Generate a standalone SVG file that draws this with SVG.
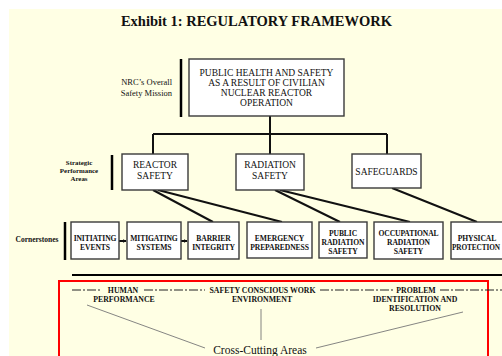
<svg xmlns="http://www.w3.org/2000/svg" width="502" height="356" viewBox="0 0 502 356">
<defs>
<style>
.bg{fill:#FFFFE4}
.box{fill:#fff;stroke:#3a3a3a;stroke-width:1.4}
.bar{stroke:#000;stroke-width:2.5}
.con{stroke:#111;stroke-width:2;fill:none}
.thin{stroke:#777;stroke-width:0.9;fill:none}
.t{font-family:"Liberation Serif","Times New Roman",serif;fill:#111;text-anchor:middle}
.l1{font-size:9.5px}
.l3{font-size:7.6px;font-weight:bold;letter-spacing:-0.1px}
.cc{font-size:7.8px;font-weight:bold}
.side{font-size:8.5px;text-anchor:end}
.sm{font-size:6.9px;font-weight:bold}
</style>
<marker id="ah" viewBox="0 0 6 6" refX="5" refY="3" markerWidth="4" markerHeight="4" orient="auto" markerUnits="userSpaceOnUse">
<path d="M0,0 L6,3 L0,6 z" fill="#111"/>
</marker>
</defs>
<rect x="0" y="0" width="502" height="356" fill="#fff"/>
<rect class="bg" x="9" y="9" width="493" height="347"/>

<text class="t" x="256.5" y="26" style="font-size:14.5px;font-weight:bold">Exhibit 1: REGULATORY FRAMEWORK</text>

<g id="labels">
<line class="bar" x1="181" y1="59" x2="181" y2="117"/>
<text class="t side" x="172" y="85">NRC’s Overall</text>
<text class="t side" x="172" y="96">Safety Mission</text>
<line class="bar" x1="112" y1="155" x2="112" y2="190"/>
<text class="t sm" x="79" y="165">Strategic</text>
<text class="t sm" x="79" y="173">Performance</text>
<text class="t sm" x="79" y="181">Areas</text>
<line class="bar" x1="65" y1="222" x2="65" y2="260"/>
<text class="t" x="37" y="242" style="font-size:7.5px;font-weight:bold">Cornerstones</text>
</g>

<g id="connectors">
<path class="con" d="M270,116 V134 M153,134 H387 M153,134 V154 M270,134 V154 M387,134 V154"/>
<path class="con" d="M153,190 L213,222 M158,190 L282,222 M275,190 L340,222 M280,190 L410,222 M392,188 L477,222"/>
<line class="con" x1="119" y1="241" x2="126" y2="241" marker-end="url(#ah)"/>
<line class="con" x1="181" y1="241" x2="187" y2="241" marker-end="url(#ah)"/>
<line x1="72" y1="275" x2="502" y2="275" stroke="#000" stroke-width="2.2"/>
</g>

<g id="mission">
<rect class="box" x="189" y="59" width="155" height="57"/>
<text class="t l1" x="266.5" y="76">PUBLIC HEALTH AND SAFETY</text>
<text class="t l1" x="266.5" y="86">AS A RESULT OF CIVILIAN</text>
<text class="t l1" x="266.5" y="96">NUCLEAR REACTOR</text>
<text class="t l1" x="266.5" y="106">OPERATION</text>
</g>

<g id="reactor-safety">
<rect class="box" x="122" y="154" width="66" height="36"/>
<text class="t l1" x="155" y="168">REACTOR</text>
<text class="t l1" x="155" y="179">SAFETY</text>
</g>
<g id="radiation-safety">
<rect class="box" x="236" y="154" width="68" height="36"/>
<text class="t l1" x="270" y="168">RADIATION</text>
<text class="t l1" x="270" y="179">SAFETY</text>
</g>
<g id="safeguards">
<rect class="box" x="352" y="154" width="69" height="34"/>
<text class="t l1" x="386.5" y="175">SAFEGUARDS</text>
</g>

<g id="initiating-events">
<rect class="box" x="71" y="222" width="48" height="37"/>
<text class="t l3" x="95" y="240.5">INITIATING</text>
<text class="t l3" x="95" y="249.5">EVENTS</text>
</g>
<g id="mitigating-systems">
<rect class="box" x="127" y="222" width="54" height="37"/>
<text class="t l3" x="154" y="240.5">MITIGATING</text>
<text class="t l3" x="154" y="249.5">SYSTEMS</text>
</g>
<g id="barrier-integrity">
<rect class="box" x="188" y="222" width="51" height="37"/>
<text class="t l3" x="213.5" y="240.5">BARRIER</text>
<text class="t l3" x="213.5" y="249.5">INTEGRITY</text>
</g>
<g id="emergency-preparedness">
<rect class="box" x="247" y="222" width="65" height="36"/>
<text class="t l3" x="279.5" y="240.5">EMERGENCY</text>
<text class="t l3" x="279.5" y="249.5">PREPAREDNESS</text>
</g>
<g id="public-radiation-safety">
<rect class="box" x="319" y="222" width="48" height="36"/>
<text class="t l3" x="343" y="235.5">PUBLIC</text>
<text class="t l3" x="343" y="244.5">RADIATION</text>
<text class="t l3" x="343" y="253.5">SAFETY</text>
</g>
<g id="occupational-radiation-safety">
<rect class="box" x="374" y="222" width="69" height="37"/>
<text class="t l3" x="408.5" y="235.5">OCCUPATIONAL</text>
<text class="t l3" x="408.5" y="244.5">RADIATION</text>
<text class="t l3" x="408.5" y="253.5">SAFETY</text>
</g>
<g id="physical-protection">
<rect class="box" x="451" y="222" width="62" height="37"/>
<text class="t l3" x="477" y="240.5">PHYSICAL</text>
<text class="t l3" x="476" y="249.5" style="font-size:7.3px">PROTECTION</text>
</g>

<g id="cross-cutting">
<rect x="59" y="281" width="429" height="90" fill="none" stroke="#f00" stroke-width="2"/>
<path d="M72,290 H102 M144,290 H205 M320,290 H393 M440,290 H502" stroke="#222" stroke-width="1" stroke-dasharray="9 2 2 2" fill="none"/>
<text class="t cc" x="123" y="292.5">HUMAN</text>
<text class="t cc" x="124" y="301.5">PERFORMANCE</text>
<text class="t cc" x="262.5" y="292.5">SAFETY CONSCIOUS WORK</text>
<text class="t cc" x="262" y="301.5">ENVIRONMENT</text>
<text class="t cc" x="416" y="292.5">PROBLEM</text>
<text class="t cc" x="415" y="301.5">IDENTIFICATION AND</text>
<text class="t cc" x="415" y="310.5">RESOLUTION</text>
<path class="thin" d="M87,305 L205,348 M261,309 V340 M463,312 L316,348"/>
<text class="t" x="260" y="354" style="font-size:11.5px">Cross-Cutting Areas</text>
</g>
</svg>
